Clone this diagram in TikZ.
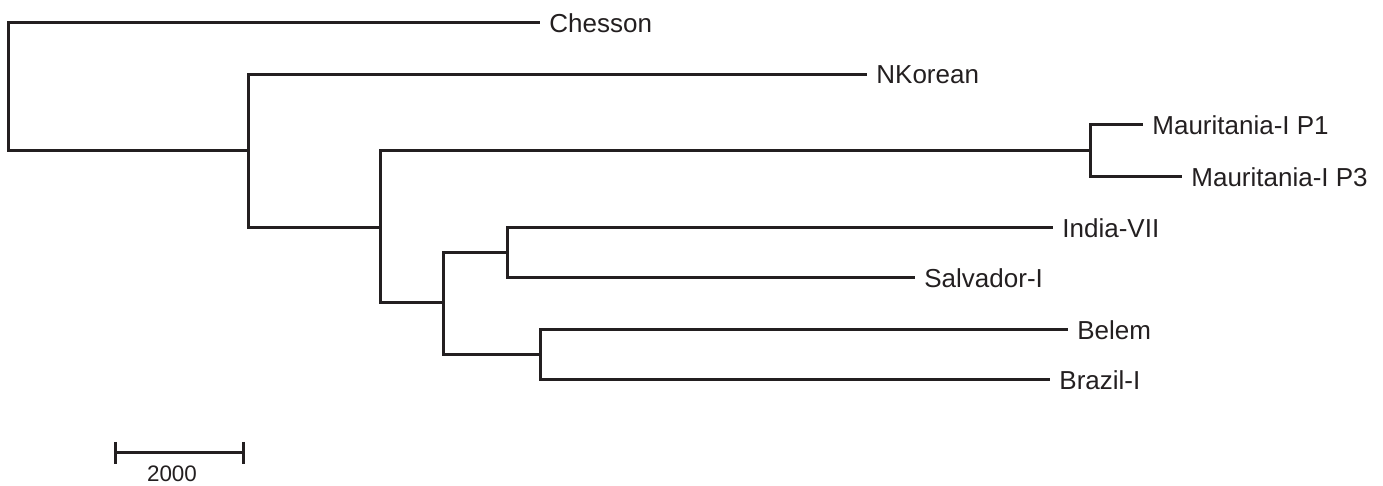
\documentclass[tikz,border=0pt]{standalone}
\usepackage{fontspec}
\setmainfont{Liberation Sans}
\definecolor{ink}{RGB}{35,31,32}
\begin{document}
\begin{tikzpicture}[x=0.5pt,y=-0.5pt,
  branch/.style={draw=ink,line width=1.5pt,line join=miter},
  leaf/.style={anchor=west,inner xsep=4.5pt,inner ysep=0pt,text=ink,font=\fontsize{13}{15}\selectfont},
  scalelabel/.style={inner sep=0pt,text=ink,font=\fontsize{11.2}{13}\selectfont}]
\useasboundingbox (0,0) rectangle (1383,486);
% internal nodes
\coordinate (n0) at (8,87);
\coordinate (nA) at (248,151);
\coordinate (nB) at (380,228);
\coordinate (nM) at (1090,151);
\coordinate (nC) at (443,303);
\coordinate (nD) at (507,253);
\coordinate (nE) at (540,355);
% leaves
\node[leaf] (chesson) at (540,23) {Chesson};
\node[leaf] (nkorean) at (867,75) {NKorean};
\node[leaf] (p1) at (1143,125) {Mauritania-I P1};
\node[leaf] (p3) at (1182,177) {Mauritania-I P3};
\node[leaf] (india) at (1053,228) {India-VII};
\node[leaf] (salvador) at (915,278) {Salvador-I};
\node[leaf] (belem) at (1068,330) {Belem};
\node[leaf] (brazil) at (1050,380) {Brazil-I};
% branches
\draw[branch] (n0) |- (chesson.west);
\draw[branch] (n0) |- (nA);
\draw[branch] (nA) |- (nkorean.west);
\draw[branch] (nA) |- (nB);
\draw[branch] (nB) |- (nM);
\draw[branch] (nB) |- (nC);
\draw[branch] (nM) |- (p1.west);
\draw[branch] (nM) |- (p3.west);
\draw[branch] (nC) |- (nD);
\draw[branch] (nC) |- (nE);
\draw[branch] (nD) |- (india.west);
\draw[branch] (nD) |- (salvador.west);
\draw[branch] (nE) |- (belem.west);
\draw[branch] (nE) |- (brazil.west);
% scale bar
\coordinate (s1) at (115,453);
\coordinate (s2) at (243,453);
\draw[branch] (s1) -- (s2);
\draw[branch] (115,442) -- (115,464);
\draw[branch] (243,442) -- (243,464);
\node[scalelabel] (scale) at (172,474) {2000};
\end{tikzpicture}
\end{document}
